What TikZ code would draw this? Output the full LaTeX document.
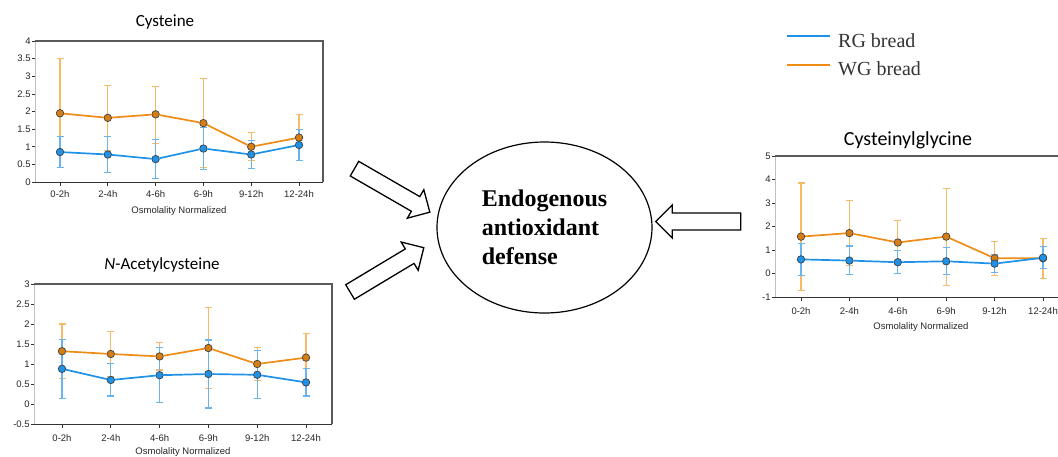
\documentclass[tikz,border=0pt]{standalone}
\usepackage{fontspec}
\setmainfont{Liberation Serif}
\setsansfont{Liberation Sans}
\newfontfamily\titlefont{Carlito}
\usetikzlibrary{arrows.meta,
                positioning,
                shapes.geometric, shapes.arrows
            }

\definecolor{rgblue}{RGB}{30,146,232}
\definecolor{wgorange}{RGB}{238,140,22}
\definecolor{rgbar}{RGB}{105,180,236}
\definecolor{wgbar}{RGB}{246,186,104}

\tikzset{
    ticklabel/.style={font=\sffamily\fontsize{9.5}{9.5}\selectfont, text=black!85, inner sep=1pt},
    axistitle/.style={font=\sffamily\fontsize{9.5}{9.5}\selectfont, text=black!85, inner sep=1pt},
    charttitle/.style={font=\titlefont\fontsize{17}{17}\selectfont, inner sep=1pt},
    axisleft/.style={draw=black!25, line width=0.8pt},
    axistop/.style={draw=black!65, line width=1.3pt},
    axisbottom/.style={draw=black!80, line width=1pt},
    tickmark/.style={draw=black!80, line width=0.7pt},
    rgline/.style={draw=rgblue, line width=1.7pt},
    wgline/.style={draw=wgorange, line width=1.7pt},
    rgerr/.style={draw=rgbar, line width=1.1pt},
    wgerr/.style={draw=wgbar, line width=1.1pt},
    rgdot/.style={circle, draw=black!75, fill=rgblue, inner sep=0pt, minimum size=7.5pt, line width=0.7pt},
    wgdot/.style={circle, draw=black!75, fill=wgorange!90!black, inner sep=0pt, minimum size=7.5pt, line width=0.7pt},
    legendtext/.style={font=\fontsize{20}{20}\selectfont, text=black!80, inner sep=2pt},
    blockarrow/.style={single arrow, draw, line width=1.3pt, inner xsep=0pt, inner ysep=7.8pt,
                       single arrow head extend=8pt, single arrow head indent=0pt},
}

\begin{document}
\begin{tikzpicture}[x=1pt, y=-1pt]
    \useasboundingbox (0,0) rectangle (1058,456);

    % Cysteine
    \node[charttitle] (cytitle) at (165,22) {Cysteine};
    \begin{scope}[shift={(60,182)}, x=47.8pt, y=35.25pt]
        \draw[axisleft] (-0.523,0) -- (-0.523,4);
        \draw[axistop] (-0.523,4) -- (5.502,4) -- (5.502,0);
        \draw[axisbottom] (-0.523,0) -- (5.502,0);
        \foreach \v [count=\k] in {0,0.5,1,1.5,2,2.5,3,3.5,4}
            \draw[tickmark] (-0.523,\v) -- ++(-3pt,0) node[ticklabel, left] (cyy\k) {\v};
        \foreach \t [count=\i from 0] in {0-2h,2-4h,4-6h,6-9h,9-12h,12-24h} {
            \draw[tickmark] (\i,0) -- ++(0,-3.5pt);
            \node[ticklabel] (cyx\i) at ([yshift=-12pt]\i,0) {\t};
        }
        \foreach \i/\lo/\hi in {0/0.40/3.50, 1/0.90/2.75, 2/1.10/2.72, 3/0.40/2.93, 4/0.60/1.40, 5/0.60/1.92}
            \draw[wgerr] (\i,\lo) -- (\i,\hi) (\i,\lo) ++(-3.5pt,0) -- ++(7pt,0) (\i,\hi) ++(-3.5pt,0) -- ++(7pt,0);
        \foreach \i/\lo/\hi in {0/0.40/1.30, 1/0.28/1.30, 2/0.10/1.20, 3/0.35/1.55, 4/0.38/1.18, 5/0.62/1.48}
            \draw[rgerr] (\i,\lo) -- (\i,\hi) (\i,\lo) ++(-3.5pt,0) -- ++(7pt,0) (\i,\hi) ++(-3.5pt,0) -- ++(7pt,0);
        \foreach \i/\m in {0/1.95, 1/1.82, 2/1.92, 3/1.67, 4/1.00, 5/1.26}
            \node[wgdot] (cyw\i) at (\i,\m) {};
        \foreach \i/\m in {0/0.85, 1/0.78, 2/0.65, 3/0.95, 4/0.78, 5/1.05}
            \node[rgdot] (cyr\i) at (\i,\m) {};
        \draw[wgline] (cyw0) -- (cyw1) -- (cyw2) -- (cyw3) -- (cyw4) -- (cyw5);
        \draw[rgline] (cyr0) -- (cyr1) -- (cyr2) -- (cyr3) -- (cyr4) -- (cyr5);
    \end{scope}
    \node[axistitle] (cyaxis) at (179,211) {Osmolality Normalized};

    % N-Acetylcysteine
    \node[charttitle] (nactitle) at (162,265) {\textit{N}-Acetylcysteine};
    \begin{scope}[shift={(62,404)}, x=48.8pt, y=40pt]
        \draw[axisleft] (-0.574,-0.5) -- (-0.574,3);
        \draw[axistop] (-0.574,3) -- (5.533,3) -- (5.533,-0.5);
        \draw[axisbottom] (-0.574,-0.5) -- (5.533,-0.5);
        \foreach \v [count=\k] in {-0.5,0,0.5,1,1.5,2,2.5,3}
            \draw[tickmark] (-0.574,\v) -- ++(-3pt,0) node[ticklabel, left] (nacy\k) {\v};
        \foreach \t [count=\i from 0] in {0-2h,2-4h,4-6h,6-9h,9-12h,12-24h} {
            \draw[tickmark] (\i,-0.5) -- ++(0,-3.5pt);
            \node[ticklabel] (nacx\i) at ([yshift=-14pt]\i,-0.5) {\t};
        }
        \foreach \i/\lo/\hi in {0/0.63/2.00, 1/0.68/1.82, 2/0.85/1.53, 3/0.38/2.42, 4/0.58/1.42, 5/0.55/1.77}
            \draw[wgerr] (\i,\lo) -- (\i,\hi) (\i,\lo) ++(-3.5pt,0) -- ++(7pt,0) (\i,\hi) ++(-3.5pt,0) -- ++(7pt,0);
        \foreach \i/\lo/\hi in {0/0.13/1.62, 1/0.20/1.01, 2/0.04/1.42, 3/-0.10/1.60, 4/0.13/1.33, 5/0.20/0.88}
            \draw[rgerr] (\i,\lo) -- (\i,\hi) (\i,\lo) ++(-3.5pt,0) -- ++(7pt,0) (\i,\hi) ++(-3.5pt,0) -- ++(7pt,0);
        \foreach \i/\m in {0/1.32, 1/1.25, 2/1.19, 3/1.40, 4/1.00, 5/1.16}
            \node[wgdot] (nacw\i) at (\i,\m) {};
        \foreach \i/\m in {0/0.88, 1/0.60, 2/0.72, 3/0.75, 4/0.73, 5/0.54}
            \node[rgdot] (nacr\i) at (\i,\m) {};
        \draw[wgline] (nacw0) -- (nacw1) -- (nacw2) -- (nacw3) -- (nacw4) -- (nacw5);
        \draw[rgline] (nacr0) -- (nacr1) -- (nacr2) -- (nacr3) -- (nacr4) -- (nacr5);
    \end{scope}
    \node[axistitle] (nacaxis) at (183,452) {Osmolality Normalized};

    % Cysteinylglycine
    \node[charttitle, font=\titlefont\fontsize{20}{20}\selectfont] (cgtitle) at (908,140) {Cysteinylglycine};
    \begin{scope}[shift={(801,273.5)}, x=48.4pt, y=23.5pt]
        \draw[axisleft] (-0.537,-1) -- (-0.537,5);
        \draw[axistop] (-0.537,5) -- (5.537,5) -- (5.537,-1);
        \draw[axisbottom] (-0.537,-1) -- (5.537,-1);
        \foreach \v [count=\k] in {-1,0,1,2,3,4,5}
            \draw[tickmark] (-0.537,\v) -- ++(-3pt,0) node[ticklabel, left] (cgy\k) {\v};
        \foreach \t [count=\i from 0] in {0-2h,2-4h,4-6h,6-9h,9-12h,12-24h} {
            \draw[tickmark] (\i,-1) -- ++(0,-3.5pt);
            \node[ticklabel] (cgx\i) at ([yshift=-14pt]\i,-1) {\t};
        }
        \foreach \i/\lo/\hi in {0/-0.72/3.85, 1/0.33/3.12, 2/0.37/2.27, 3/-0.50/3.62, 4/-0.08/1.37, 5/-0.20/1.50}
            \draw[wgerr] (\i,\lo) -- (\i,\hi) (\i,\lo) ++(-3.5pt,0) -- ++(7pt,0) (\i,\hi) ++(-3.5pt,0) -- ++(7pt,0);
        \foreach \i/\lo/\hi in {0/-0.08/1.27, 1/-0.05/1.17, 2/0.00/0.98, 3/-0.05/1.12, 4/0.05/0.80, 5/0.20/1.15}
            \draw[rgerr] (\i,\lo) -- (\i,\hi) (\i,\lo) ++(-3.5pt,0) -- ++(7pt,0) (\i,\hi) ++(-3.5pt,0) -- ++(7pt,0);
        \foreach \i/\m in {0/1.57, 1/1.72, 2/1.32, 3/1.57, 4/0.65, 5/0.65}
            \node[wgdot] (cgw\i) at (\i,\m) {};
        \foreach \i/\m in {0/0.60, 1/0.55, 2/0.48, 3/0.52, 4/0.42, 5/0.67}
            \node[rgdot] (cgr\i) at (\i,\m) {};
        \draw[wgline] (cgw0) -- (cgw1) -- (cgw2) -- (cgw3) -- (cgw4) -- (cgw5);
        \draw[rgline] (cgr0) -- (cgr1) -- (cgr2) -- (cgr3) -- (cgr4) -- (cgr5);
    \end{scope}
    \node[axistitle] (cgaxis) at (921,327) {Osmolality Normalized};

    % legend
    \coordinate (rgstart) at (787,36);
    \coordinate (rgend) at (830,36);
    \coordinate (wgstart) at (787,65);
    \coordinate (wgend) at (830,65);
    \draw[rgline, line width=2pt] (rgstart) -- (rgend);
    \draw[wgline, line width=2pt] (wgstart) -- (wgend);
    \node[legendtext, right=6pt of rgend, yshift=-5pt] (rglabel) {RG bread};
    \node[legendtext, right=6pt of wgend, yshift=-4pt] (wglabel) {WG bread};

    % centre
    \node[ellipse, draw, line width=1.2pt, minimum width=215pt, minimum height=171pt,
          align=left, font=\bfseries\fontsize{24}{29}\selectfont] (defense) at (544.5,227.5)
          {Endogenous\\antioxidant\\defense};

    % block arrows
    \node[blockarrow, minimum height=87pt, rotate=-30] (cyarrow) at (388.5,188.3) {};
    \node[blockarrow, minimum height=86pt, rotate=31] (nacarrow) at (383.3,272) {};
    \node[blockarrow, minimum height=85pt, rotate=180] (cgarrow) at (702.5,221.5) {};
\end{tikzpicture}
\end{document}
